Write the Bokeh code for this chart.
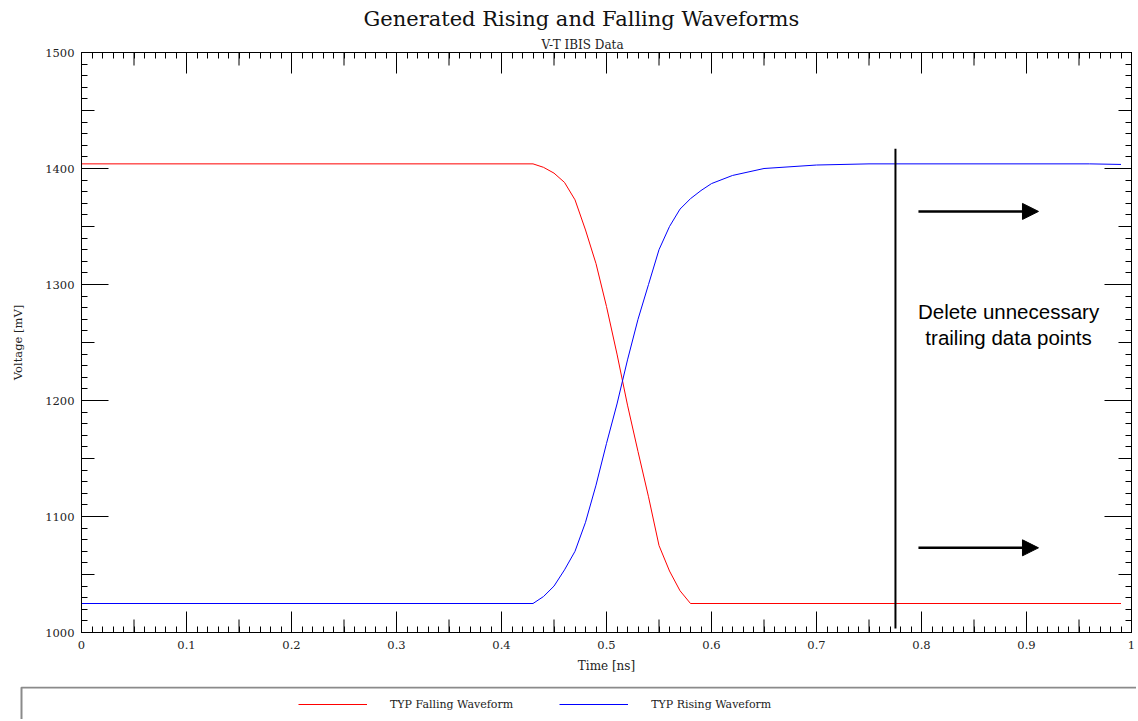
from bokeh.plotting import figure
from bokeh.layouts import column
from bokeh.models import (Range1d, LinearAxis, FixedTicker, Label, Arrow, NormalHead,
                          Legend, LegendItem, Title)
from bokeh.embed import file_html
from bokeh.resources import INLINE

# ---------------- data ----------------
fall_t = [0.0, 0.43, 0.44, 0.45, 0.46, 0.47, 0.48, 0.49, 0.50, 0.51, 0.52, 0.53,
          0.54, 0.55, 0.56, 0.57, 0.58, 0.99]
fall_v = [1404, 1404, 1401, 1396, 1388, 1373, 1347, 1318, 1281, 1240, 1196, 1156,
          1117, 1075, 1053, 1036, 1025, 1025]

rise_t = [0.0, 0.43, 0.44, 0.45, 0.46, 0.47, 0.48, 0.49, 0.50, 0.51, 0.52, 0.53,
          0.54, 0.55, 0.56, 0.57, 0.58, 0.59, 0.60, 0.62, 0.65, 0.70, 0.75, 0.96, 0.99]
rise_v = [1025, 1025, 1031, 1040, 1054, 1070, 1095, 1127, 1163, 1197, 1235, 1270,
          1300, 1330, 1350, 1365, 1374, 1381, 1387, 1394, 1400, 1403, 1404, 1404, 1403.5]

series_names = ["TYP Falling Waveform", "TYP Rising Waveform"]
series_colors = ["#ff0000", "#0000ff"]

x_ticks = [0, 0.1, 0.2, 0.3, 0.4, 0.5, 0.6, 0.7, 0.8, 0.9, 1]
x_tick_labels = ["0", "0.1", "0.2", "0.3", "0.4", "0.5", "0.6", "0.7", "0.8", "0.9", "1"]
x_mid_ticks = [0.05, 0.15, 0.25, 0.35, 0.45, 0.55, 0.65, 0.75, 0.85, 0.95]
x_minor_ticks = [i / 100 for i in range(0, 101)]

y_ticks = [1000, 1100, 1200, 1300, 1400, 1500]
y_tick_labels = ["1000", "1100", "1200", "1300", "1400", "1500"]
y_mid_ticks = [1050, 1150, 1250, 1350, 1450]
y_minor_ticks = list(range(1000, 1501, 10))

title_text = "Generated Rising and Falling Waveforms"
subtitle_text = "V-T IBIS Data"
x_label = "Time [ns]"
y_label = "Voltage [mV]"
note_lines = ["Delete unnecessary", "trailing data points"]

# ---------------- layout constants ----------------
W = 1136
H_MAIN = 686
H_LEG = 33
ML, MR, MT, MB = 81, 5, 52, 54
frame_w = W - ML - MR
frame_h = H_MAIN - MT - MB
px_x = 1.0 / frame_w            # data units per pixel (x)
px_y = 500.0 / frame_h          # data units per pixel (y)

SERIF = "DejaVu Serif"
SANS = "Liberation Sans"

p = figure(width=W, height=H_MAIN, x_range=Range1d(0, 1), y_range=Range1d(1000, 1500),
           output_backend="svg", toolbar_location=None,
           x_axis_type=None, y_axis_type=None,
           min_border_left=ML, min_border_right=MR, min_border_top=MT, min_border_bottom=MB)
p.outline_line_color = "black"
p.outline_line_width = 1
p.background_fill_color = "white"
p.border_fill_color = "white"


def style_axis(ax, major_len):
    ax.major_tick_in = major_len
    ax.major_tick_out = 0
    ax.minor_tick_in = 6
    ax.minor_tick_out = 0
    ax.axis_line_color = "black"
    ax.major_tick_line_color = "black"
    ax.minor_tick_line_color = "black"
    ax.major_label_text_font = SERIF
    ax.major_label_text_font_size = "11.5px"
    ax.major_label_text_color = "#222222"
    ax.axis_label_text_font = SERIF
    ax.axis_label_text_font_style = "normal"
    ax.axis_label_text_color = "#222222"


xb = LinearAxis(ticker=FixedTicker(ticks=x_ticks, minor_ticks=x_minor_ticks),
                major_label_overrides=dict(zip(x_ticks, x_tick_labels)),
                axis_label=x_label, major_label_standoff=8, axis_label_standoff=7)
style_axis(xb, 21)
xb.axis_label_text_font_size = "12px"
p.add_layout(xb, "below")

xt = LinearAxis(ticker=FixedTicker(ticks=x_ticks, minor_ticks=x_minor_ticks),
                major_label_overrides={t: "" for t in x_ticks}, major_label_standoff=0)
style_axis(xt, 21)
xt.major_label_text_color = None
p.add_layout(xt, "above")

yl = LinearAxis(ticker=FixedTicker(ticks=y_ticks, minor_ticks=y_minor_ticks),
                major_label_overrides=dict(zip(y_ticks, y_tick_labels)),
                axis_label=y_label, major_label_standoff=7, axis_label_standoff=17)
style_axis(yl, 27)
yl.axis_label_text_font_size = "11.5px"
p.add_layout(yl, "left")

yr = LinearAxis(ticker=FixedTicker(ticks=y_ticks, minor_ticks=y_minor_ticks),
                major_label_overrides={t: "" for t in y_ticks}, major_label_standoff=0)
style_axis(yr, 27)
yr.major_label_text_color = None
p.add_layout(yr, "right")

# medium (half-step) tick marks on all four sides, 13 px long
mid_x_len = 13 * px_y
mid_y_len = 13 * px_x
p.segment(x0=x_mid_ticks, x1=x_mid_ticks, y0=[1000] * len(x_mid_ticks),
          y1=[1000 + mid_x_len] * len(x_mid_ticks), line_color="black", line_width=1)
p.segment(x0=x_mid_ticks, x1=x_mid_ticks, y0=[1500] * len(x_mid_ticks),
          y1=[1500 - mid_x_len] * len(x_mid_ticks), line_color="black", line_width=1)
p.segment(x0=[0] * len(y_mid_ticks), x1=[mid_y_len] * len(y_mid_ticks),
          y0=y_mid_ticks, y1=y_mid_ticks, line_color="black", line_width=1)
p.segment(x0=[1] * len(y_mid_ticks), x1=[1 - mid_y_len] * len(y_mid_ticks),
          y0=y_mid_ticks, y1=y_mid_ticks, line_color="black", line_width=1)

# ---------------- series ----------------
r_fall = p.line(fall_t, fall_v, line_color=series_colors[0], line_width=1)
r_rise = p.line(rise_t, rise_v, line_color=series_colors[1], line_width=1)

# ---------------- titles (stacked above the frame) ----------------
p.add_layout(Title(text=subtitle_text, align="left", offset=460, standoff=2,
                   text_font=SERIF, text_font_size="12px", text_font_style="normal",
                   text_color="#222222"), "above")
p.add_layout(Title(text=title_text, align="left", offset=282, standoff=8,
                   text_font=SERIF, text_font_size="21px", text_font_style="normal",
                   text_color="#111111"), "above")

# ---------------- annotation ----------------
p.add_layout(Arrow(end=None, x_start=0.7752, x_end=0.7752, y_start=1417, y_end=1003.5,
                   line_color="black", line_width=2))
for ya in [1363, 1073]:
    p.add_layout(Arrow(end=NormalHead(size=16, fill_color="black", line_color="black"),
                       x_start=0.7971, x_end=0.9114, y_start=ya, y_end=ya,
                       line_color="black", line_width=2.5))
for txt, yv in zip(note_lines, [1276.7, 1254.3]):
    p.add_layout(Label(x=0.8829, y=yv, text=txt, text_align="center", text_baseline="middle",
                       text_font=SANS, text_font_size="20.5px", text_color="black"))

# ---------------- legend strip (boxed, below the chart) ----------------
leg = figure(width=W, height=H_LEG, x_range=Range1d(0, W), y_range=Range1d(H_LEG, 0),
             output_backend="svg", toolbar_location=None, x_axis_type=None, y_axis_type=None,
             min_border_left=0, min_border_right=0, min_border_top=0, min_border_bottom=0)
leg.frame_align = False
leg.outline_line_color = None
leg.background_fill_color = "white"
leg.border_fill_color = "white"
leg.quad(left=[21], right=[W + 100], top=[1], bottom=[H_LEG + 100],
         fill_color=None, line_color="#8a8a8a", line_width=2)
# legend key renderers (same styles as the series; their points lie outside the strip)
l_fall = leg.line(x=[-50, -40], y=[-50, -50], line_color=series_colors[0], line_width=1)
l_rise = leg.line(x=[-50, -40], y=[-50, -50], line_color=series_colors[1], line_width=1)
legend = Legend(items=[LegendItem(label=series_names[0], renderers=[l_fall]),
                       LegendItem(label=series_names[1], renderers=[l_rise])],
                orientation="horizontal", location=(298, 7),
                glyph_width=69, glyph_height=16, label_height=16, label_standoff=23,
                spacing=46, padding=0, margin=0, border_line_color=None,
                background_fill_alpha=0, label_text_font=SERIF, label_text_font_size="11px",
                label_text_color="#222222")
leg.add_layout(legend)

page = column(p, leg, spacing=0)
open("out.html", "w").write(file_html(page, INLINE))
